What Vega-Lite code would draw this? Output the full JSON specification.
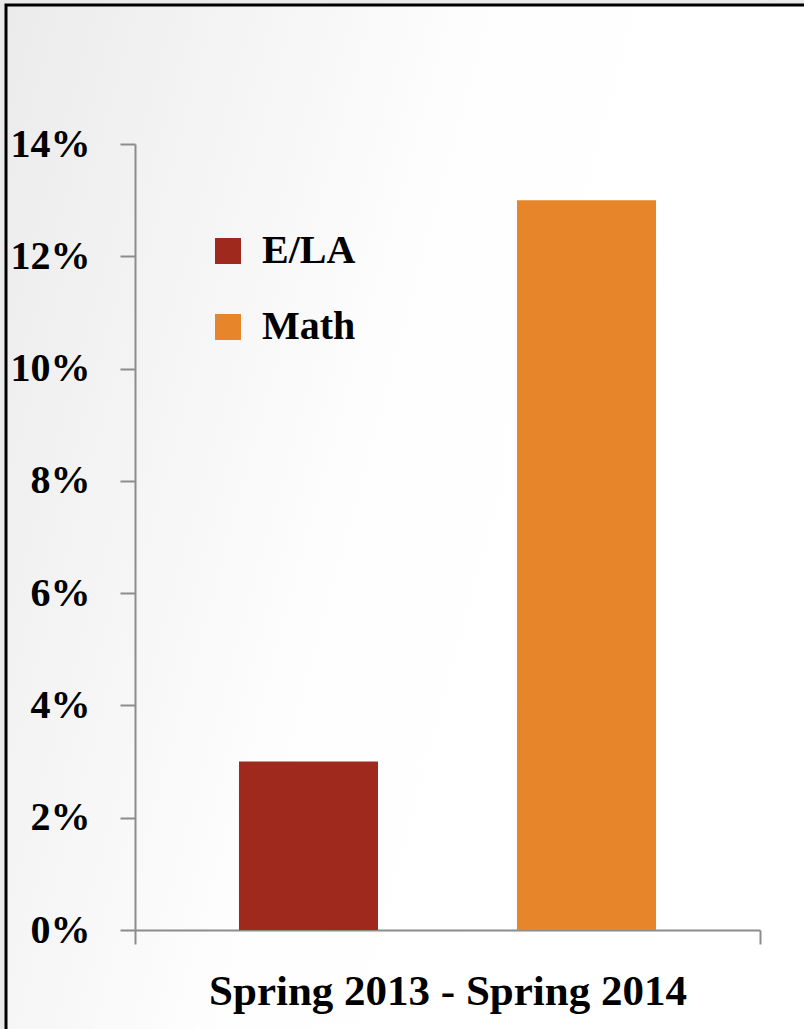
{
  "$schema": "https://vega.github.io/schema/vega-lite/v6.json",
  "width": 804,
  "height": 1030,
  "autosize": {"type": "none"},
  "padding": {"left": 6, "top": 5, "right": 0, "bottom": 0},
  "background": "#eaeaea",
  "config": {
    "view": {
      "stroke": "#000000",
      "strokeWidth": 3,
      "fill": {"gradient": "linear", "x1": 0, "y1": 0, "x2": 1, "y2": 0.35, "stops": [{"offset": 0, "color": "#ebebeb"}, {"offset": 0.55, "color": "#fefefe"}, {"offset": 1, "color": "#ffffff"}]}
    },
    "font": "Liberation Serif"
  },
  "data": {
    "values": [
      {"period": "Spring 2013 - Spring 2014", "subject": "E/LA", "value": 0.03},
      {"period": "Spring 2013 - Spring 2014", "subject": "Math", "value": 0.13}
    ]
  },
  "mark": {"type": "bar"},
  "encoding": {
    "x": {
      "field": "period",
      "type": "nominal",
      "scale": {"range": [129, 754], "paddingInner": 0, "paddingOuter": 0},
      "axis": {
        "title": null,
        "labelAngle": 0,
        "offset": -105,
        "tickBand": "extent",
        "tickSize": 14,
        "tickWidth": 2,
        "tickColor": "#8c8c8c",
        "domainColor": "#8c8c8c",
        "domainWidth": 2,
        "labelFont": "Liberation Serif",
        "labelFontWeight": "bold",
        "labelFontSize": 43,
        "labelColor": "#000000",
        "labelPadding": 26,
        "labelLimit": 0
      }
    },
    "xOffset": {
      "field": "subject",
      "type": "nominal",
      "scale": {"paddingInner": 0.5, "paddingOuter": 0.374}
    },
    "y": {
      "field": "value",
      "type": "quantitative",
      "scale": {"domain": [0, 0.14], "range": [925, 139], "nice": false, "zero": true},
      "axis": {
        "title": null,
        "offset": -129,
        "values": [0, 0.02, 0.04, 0.06, 0.08, 0.1, 0.12, 0.14],
        "format": ".0%",
        "grid": false,
        "tickSize": 15,
        "tickWidth": 2,
        "tickColor": "#8c8c8c",
        "domainColor": "#8c8c8c",
        "domainWidth": 2,
        "labelFont": "Liberation Serif",
        "labelFontWeight": "bold",
        "labelFontSize": 40,
        "labelColor": "#000000",
        "labelPadding": 30
      }
    },
    "color": {
      "field": "subject",
      "type": "nominal",
      "scale": {"domain": ["E/LA", "Math"], "range": ["#A0291E", "#E6852A"]},
      "legend": {
        "title": null,
        "orient": "none",
        "legendX": 202,
        "legendY": 226,
        "padding": 0,
        "symbolType": "square",
        "symbolSize": 676,
        "symbolStrokeWidth": 0,
        "labelFont": "Liberation Serif",
        "labelFontWeight": "bold",
        "labelFontSize": 40,
        "labelColor": "#000000",
        "labelOffset": 14,
        "rowPadding": 36
      }
    }
  }
}
